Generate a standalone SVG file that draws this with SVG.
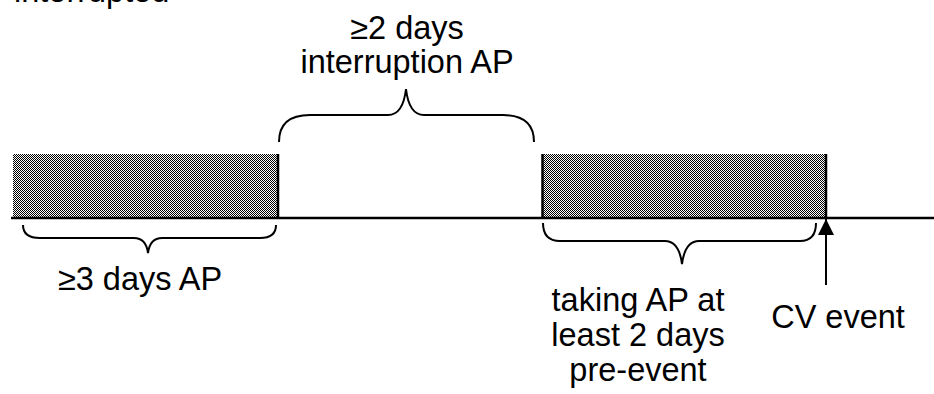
<svg xmlns="http://www.w3.org/2000/svg" width="934" height="394" viewBox="0 0 934 394">
  <style>
    .lbl { font-family: "Liberation Sans", Arial, sans-serif; font-size: 32.5px; fill: #000; }
    .mid { text-anchor: middle; }
    .edge { stroke: #000; stroke-width: 2.5; fill: none; }
    .brace { stroke: #000; stroke-width: 2; fill: none; }
    .shade { fill: url(#checker); }
  </style>
  <defs>
    <pattern id="checker" patternUnits="userSpaceOnUse" x="0" y="0" width="2" height="2">
      <rect width="2" height="2" fill="#fff"/>
      <rect x="0" y="0" width="1" height="1" fill="#000"/>
      <rect x="1" y="1" width="1" height="1" fill="#000"/>
    </pattern>
    <marker id="head" viewBox="0 0 16 16" refX="16" refY="8" markerWidth="16" markerHeight="16" markerUnits="userSpaceOnUse" orient="auto">
      <path d="M0,0 L16,8 L0,16 Z" fill="#000"/>
    </marker>
  </defs>

  <text class="lbl" x="14" y="2">interrupted</text>

  <!-- first period of antiplatelet use -->
  <g id="period1">
    <rect class="shade" x="13" y="154" width="265" height="64"/>
    <line class="edge" x1="278" y1="154" x2="278" y2="218"/>
  </g>

  <!-- second period, ending at the event -->
  <g id="period2">
    <rect class="shade" x="542" y="154" width="284" height="64"/>
    <line class="edge" x1="542.5" y1="154" x2="542.5" y2="218"/>
    <line class="edge" x1="826" y1="154" x2="826" y2="218"/>
  </g>

  <!-- time axis -->
  <g id="axis">
    <line class="edge" x1="11" y1="218" x2="934" y2="218"/>
  </g>

  <g id="brace-first">
    <path class="brace" d="M23,225 Q23,238 40,238 L134,238 Q146,238 148,253 Q150,238 162,238 L260,238 Q276,238 276,225"/>
    <text class="lbl mid" x="140" y="290">≥3 days AP</text>
  </g>

  <g id="brace-gap">
    <path class="brace" d="M279,142 Q279,115 310,115 L388,115 Q403,115 406,89 Q409,115 424,115 L503,115 Q534,115 534,142"/>
    <text class="lbl mid" x="407" y="39">≥2 days</text>
    <text class="lbl mid" x="407" y="73">interruption AP</text>
  </g>

  <g id="brace-pre">
    <path class="brace" d="M543,223 Q543,241 560,241 L665,241 Q679,241 682,264 Q685,241 699,241 L800,241 Q816,241 816,223"/>
    <text class="lbl mid" x="638" y="311">taking AP at</text>
    <text class="lbl mid" x="638" y="346">least 2 days</text>
    <text class="lbl mid" x="638" y="381">pre-event</text>
  </g>

  <g id="event">
    <text class="lbl mid" x="838" y="328">CV event</text>
  </g>

  <g id="connectors">
    <line stroke="#000" stroke-width="2" x1="826" y1="285" x2="826" y2="219" marker-end="url(#head)"/>
  </g>
</svg>
